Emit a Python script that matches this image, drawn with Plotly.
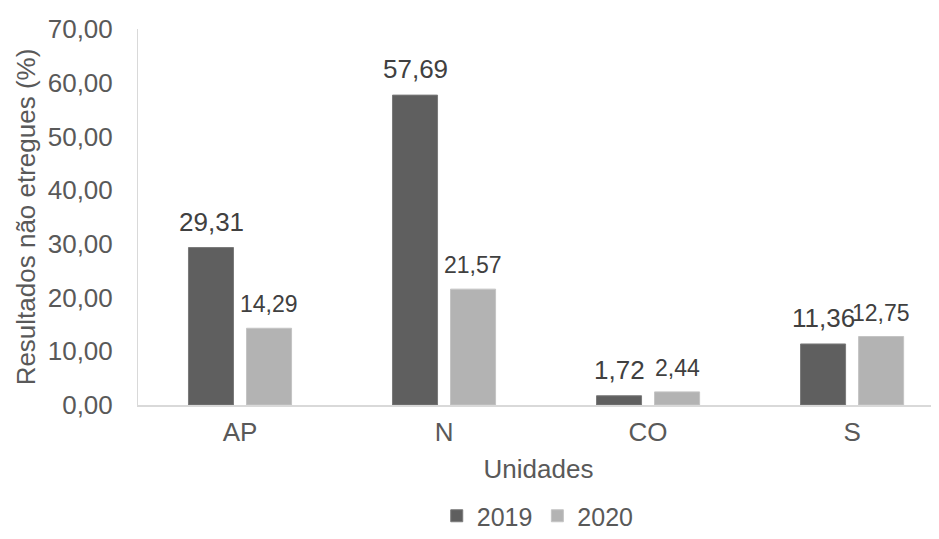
import plotly.graph_objects as go

categories = ["AP", "N", "CO", "S"]
values_2019 = [29.31, 57.69, 1.72, 11.36]
values_2020 = [14.29, 21.57, 2.44, 12.75]
series_names = ["2019", "2020"]
y_ticks = [0, 10, 20, 30, 40, 50, 60, 70]

FONT = "Liberation Sans, Arial, sans-serif"
dark = "#5f5f5f"
light = "#b3b3b3"
txt = "#595959"

fig = go.Figure()
fig.add_trace(go.Bar(x=categories, y=values_2019, name=series_names[0],
                     marker=dict(color=dark, line=dict(color="#7a7a7a", width=1))))
fig.add_trace(go.Bar(x=categories, y=values_2020, name=series_names[1],
                     marker=dict(color=light, line=dict(color="#c4c4c4", width=1))))

def fmt(v):
    return f"{v:.2f}".replace(".", ",")

for i, c in enumerate(categories):
    fig.add_annotation(x=c, y=values_2019[i], xref="x", yref="y", text=fmt(values_2019[i]),
                       showarrow=False, xshift=-29, yshift=26, yanchor="middle",
                       font=dict(family=FONT, size=26, color="#404040"))
    fig.add_annotation(x=c, y=values_2020[i], xref="x", yref="y", text=fmt(values_2020[i]),
                       showarrow=False, xshift=29, yshift=24, yanchor="middle",
                       font=dict(family=FONT, size=23, color="#404040"))

fig.update_layout(
    width=931, height=531,
    margin=dict(l=130, r=0, t=21, b=134, autoexpand=False),
    paper_bgcolor="white", plot_bgcolor="white",
    separators=",.",
    barmode="group", bargap=0.431, bargroupgap=0.224,
    font=dict(family=FONT, size=26, color=txt),
    showlegend=True,
    legend=dict(orientation="h", xref="container", yref="container",
                x=0.569, xanchor="center", y=-0.02, yanchor="bottom",
                font=dict(family=FONT, size=25, color=txt),
                itemwidth=30, tracegroupgap=0),
    xaxis=dict(
        range=[-0.5, 3.426], showgrid=False, showline=True, linecolor="#d9d9d9", linewidth=1.5,
        automargin=False,
        ticks="outside", ticklen=3, tickcolor="rgba(0,0,0,0)",
        tickfont=dict(family=FONT, size=26, color=txt),
        title=dict(text="Unidades", font=dict(family=FONT, size=26, color=txt), standoff=14),
    ),
    yaxis=dict(
        range=[0, 70], tickvals=y_ticks, tickformat=".2f", showgrid=False,
        showline=True, linecolor="#d9d9d9", linewidth=1, zeroline=False, automargin=False,
        ticks="outside", ticklen=19, tickcolor="rgba(0,0,0,0)",
        tickfont=dict(family=FONT, size=26, color=txt),
        title=dict(text="Resultados não etregues (%)", font=dict(family=FONT, size=26, color=txt), standoff=4),
    ),
)

fig.write_html("out.html")
